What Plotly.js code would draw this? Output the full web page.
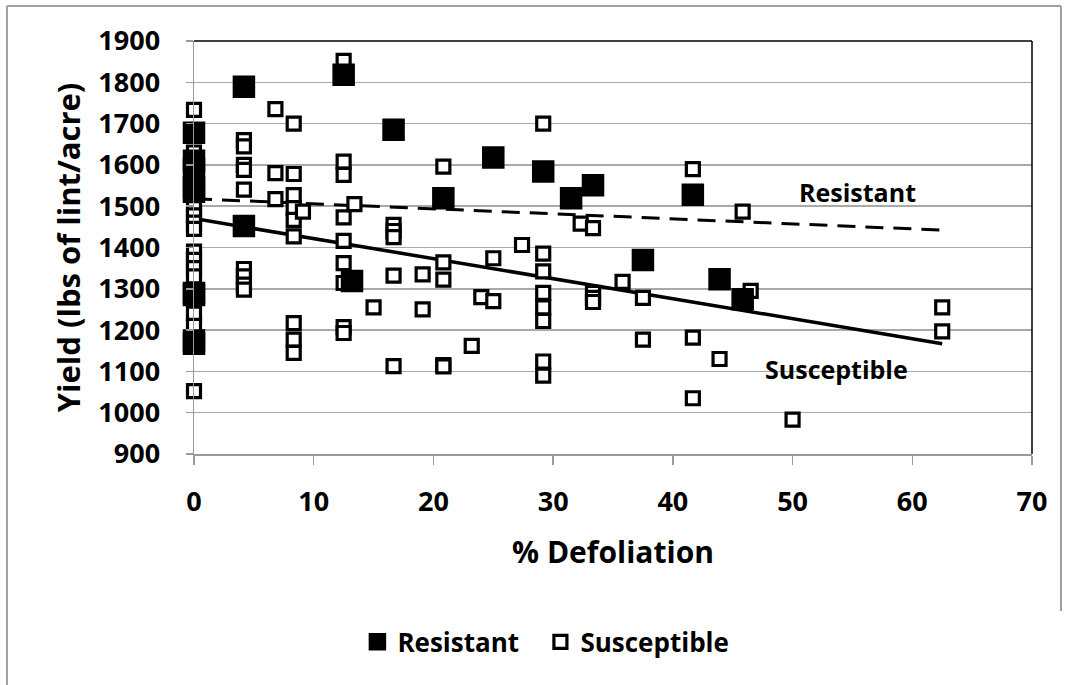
<!DOCTYPE html>
<html>
<head>
<meta charset="utf-8">
<script src="https://cdn.plot.ly/plotly-3.0.1.min.js"></script>
<style>
  html, body { margin: 0; padding: 0; background: #ffffff; }
  #chart { width: 1069px; height: 685px; }
</style>
</head>
<body>
<div id="chart"></div>
<script>
// ---- Data ----
const resistantX = [0, 0, 0, 0, 0, 0, 0, 0, 0,
  4.17, 4.17, 12.5, 13.2, 16.67, 20.83, 25, 29.17, 31.5, 33.33, 37.5, 41.67, 43.9, 45.83];
const resistantY = [1678, 1610, 1590, 1545, 1535, 1290, 1285, 1175, 1167,
  1789, 1452, 1818, 1319, 1685, 1519, 1618, 1584, 1519, 1551, 1370, 1528, 1323, 1275];

const susceptibleX = [
  0, 0, 0, 0, 0, 0, 0, 0, 0, 0, 0, 0, 0,
  4.17, 4.17, 4.17, 4.17, 4.17, 4.17, 4.17, 4.17, 4.17,
  6.8, 6.8, 6.8,
  8.33, 8.33, 8.33, 8.33, 8.33, 8.33, 8.33, 8.33, 8.33,
  9.1,
  12.5, 12.5, 12.5, 12.5, 12.5, 12.5, 12.5, 12.5, 12.5,
  13.4, 15,
  16.67, 16.67, 16.67, 16.67, 16.67,
  19.1, 19.1,
  20.83, 20.83, 20.83, 20.83, 20.83,
  23.2, 24, 25, 25, 27.4,
  29.17, 29.17, 29.17, 29.17, 29.17, 29.17, 29.17, 29.17,
  32.3,
  33.33, 33.33, 33.33, 33.33,
  35.8, 37.5, 37.5,
  41.67, 41.67, 41.67,
  43.9, 45.83, 46.5, 50, 62.5, 62.5];
const susceptibleY = [
  1733, 1630, 1495, 1478, 1460, 1445, 1390, 1370, 1350, 1330, 1240, 1210, 1052,
  1660, 1645, 1600, 1588, 1540, 1348, 1330, 1310, 1298,
  1735, 1580, 1517,
  1700, 1578, 1527, 1495, 1467, 1427, 1217, 1177, 1145,
  1487,
  1852, 1608, 1576, 1473, 1416, 1362, 1314, 1207, 1193,
  1505, 1255,
  1455, 1440, 1425, 1332, 1113,
  1335, 1250,
  1596, 1364, 1322, 1115, 1112,
  1162, 1280, 1374, 1270, 1406,
  1700, 1385, 1342, 1290, 1255, 1222, 1124, 1090,
  1458,
  1447, 1290, 1278, 1268,
  1317, 1278, 1177,
  1590, 1182, 1035,
  1130, 1487, 1295, 983, 1255, 1197];

// Trend lines (end points)
const trendX = [0, 62.5];
const resistantTrendY = [1518, 1442];
const susceptibleTrendY = [1470, 1167];

const seriesNames = ['Resistant', 'Susceptible'];
const xTicks = [0, 10, 20, 30, 40, 50, 60, 70];
const yTicks = [900, 1000, 1100, 1200, 1300, 1400, 1500, 1600, 1700, 1800, 1900];

const FONT = '"Open Sans", "Liberation Sans", Arial, sans-serif';

const traces = [
  { x: trendX, y: resistantTrendY, mode: 'lines', showlegend: false, hoverinfo: 'skip',
    line: { color: '#000000', width: 3, dash: '18px,10px' } },
  { x: trendX, y: susceptibleTrendY, mode: 'lines', showlegend: false, hoverinfo: 'skip',
    line: { color: '#000000', width: 3.5 } },
  { x: susceptibleX, y: susceptibleY, mode: 'markers', name: seriesNames[1], legendrank: 2,
    cliponaxis: false,
    marker: { symbol: 'square', size: 13, color: '#ffffff', line: { color: '#000000', width: 3.2 } } },
  { x: resistantX, y: resistantY, mode: 'markers', name: seriesNames[0], legendrank: 1,
    cliponaxis: false,
    marker: { symbol: 'square', size: 21, color: '#000000', line: { color: '#000000', width: 1.5 } } },
  // invisible spacer entry so the last legend label is not clipped
  { x: [null], y: [null], mode: 'markers', name: ' ', legendrank: 3, hoverinfo: 'skip',
    marker: { color: 'rgba(0,0,0,0)', line: { width: 0 } } }
];

const layout = {
  width: 1069, height: 685,
  margin: { l: 194, r: 37, t: 41, b: 231 },
  paper_bgcolor: '#ffffff', plot_bgcolor: '#ffffff',
  font: { family: FONT, color: '#000000', weight: 'bold' },
  showlegend: true,
  legend: {
    orientation: 'h', x: 0.195, xanchor: 'left', y: -0.455, yanchor: 'middle',
    font: { family: FONT, size: 26, color: '#000000', weight: 'bold' },
    entrywidth: 138, itemwidth: 30, bgcolor: 'rgba(0,0,0,0)'
  },
  xaxis: {
    range: [0, 70], tickvals: xTicks, ticktext: xTicks.map(String),
    showgrid: false, zeroline: false,
    showline: true, linecolor: '#9a9a9a', linewidth: 1.5,
    ticks: 'outside', ticklen: 9, tickwidth: 1.5, tickcolor: '#9a9a9a',
    ticklabelstandoff: 14,
    tickfont: { family: FONT, size: 27, color: '#000000', weight: 'bold' },
    title: { text: '% Defoliation', standoff: 24,
      font: { family: FONT, size: 30, color: '#000000', weight: 'bold' } },
    automargin: false, fixedrange: true
  },
  yaxis: {
    range: [900, 1900], tickvals: yTicks, ticktext: yTicks.map(String),
    showgrid: true, gridcolor: '#a9a9a9', gridwidth: 1.5,
    zeroline: false,
    showline: true, linecolor: '#9a9a9a', linewidth: 1.5,
    ticks: 'outside', ticklen: 7, tickwidth: 1.5, tickcolor: '#9a9a9a',
    ticklabelstandoff: 20,
    tickfont: { family: FONT, size: 27, color: '#000000', weight: 'bold' },
    title: { text: 'Yield (lbs of lint/acre)', standoff: 8,
      font: { family: FONT, size: 31, color: '#000000', weight: 'bold' } },
    automargin: false, fixedrange: true
  },
  shapes: [
    // plot-area frame (top and right in black)
    { type: 'line', xref: 'paper', yref: 'paper', x0: 0, x1: 1, y0: 1, y1: 1,
      line: { color: '#000000', width: 1.5 } },
    { type: 'line', xref: 'paper', yref: 'paper', x0: 1, x1: 1, y0: 0, y1: 1,
      line: { color: '#000000', width: 1.5 } },
    // outer chart border
    { type: 'line', xref: 'paper', yref: 'paper', x0: -0.2232, x1: 1.0346, y0: 1.0847, y1: 1.0847,
      line: { color: '#a0a0a0', width: 2 } },
    { type: 'line', xref: 'paper', yref: 'paper', x0: -0.2232, x1: -0.2232, y0: 1.0847, y1: -0.56,
      line: { color: '#a0a0a0', width: 2 } },
    { type: 'line', xref: 'paper', yref: 'paper', x0: 1.0346, x1: 1.0346, y0: 1.0847, y1: -0.38,
      line: { color: '#a0a0a0', width: 2 } }
  ],
  annotations: [
    { x: 55.4, y: 1535, xref: 'x', yref: 'y', text: 'Resistant', showarrow: false,
      font: { family: FONT, size: 25, color: '#000000', weight: 'bold' } },
    { x: 53.7, y: 1107, xref: 'x', yref: 'y', text: 'Susceptible', showarrow: false,
      font: { family: FONT, size: 25, color: '#000000', weight: 'bold' } }
  ]
};

Plotly.newPlot('chart', traces, layout, { displayModeBar: false, staticPlot: true });
</script>
</body>
</html>
